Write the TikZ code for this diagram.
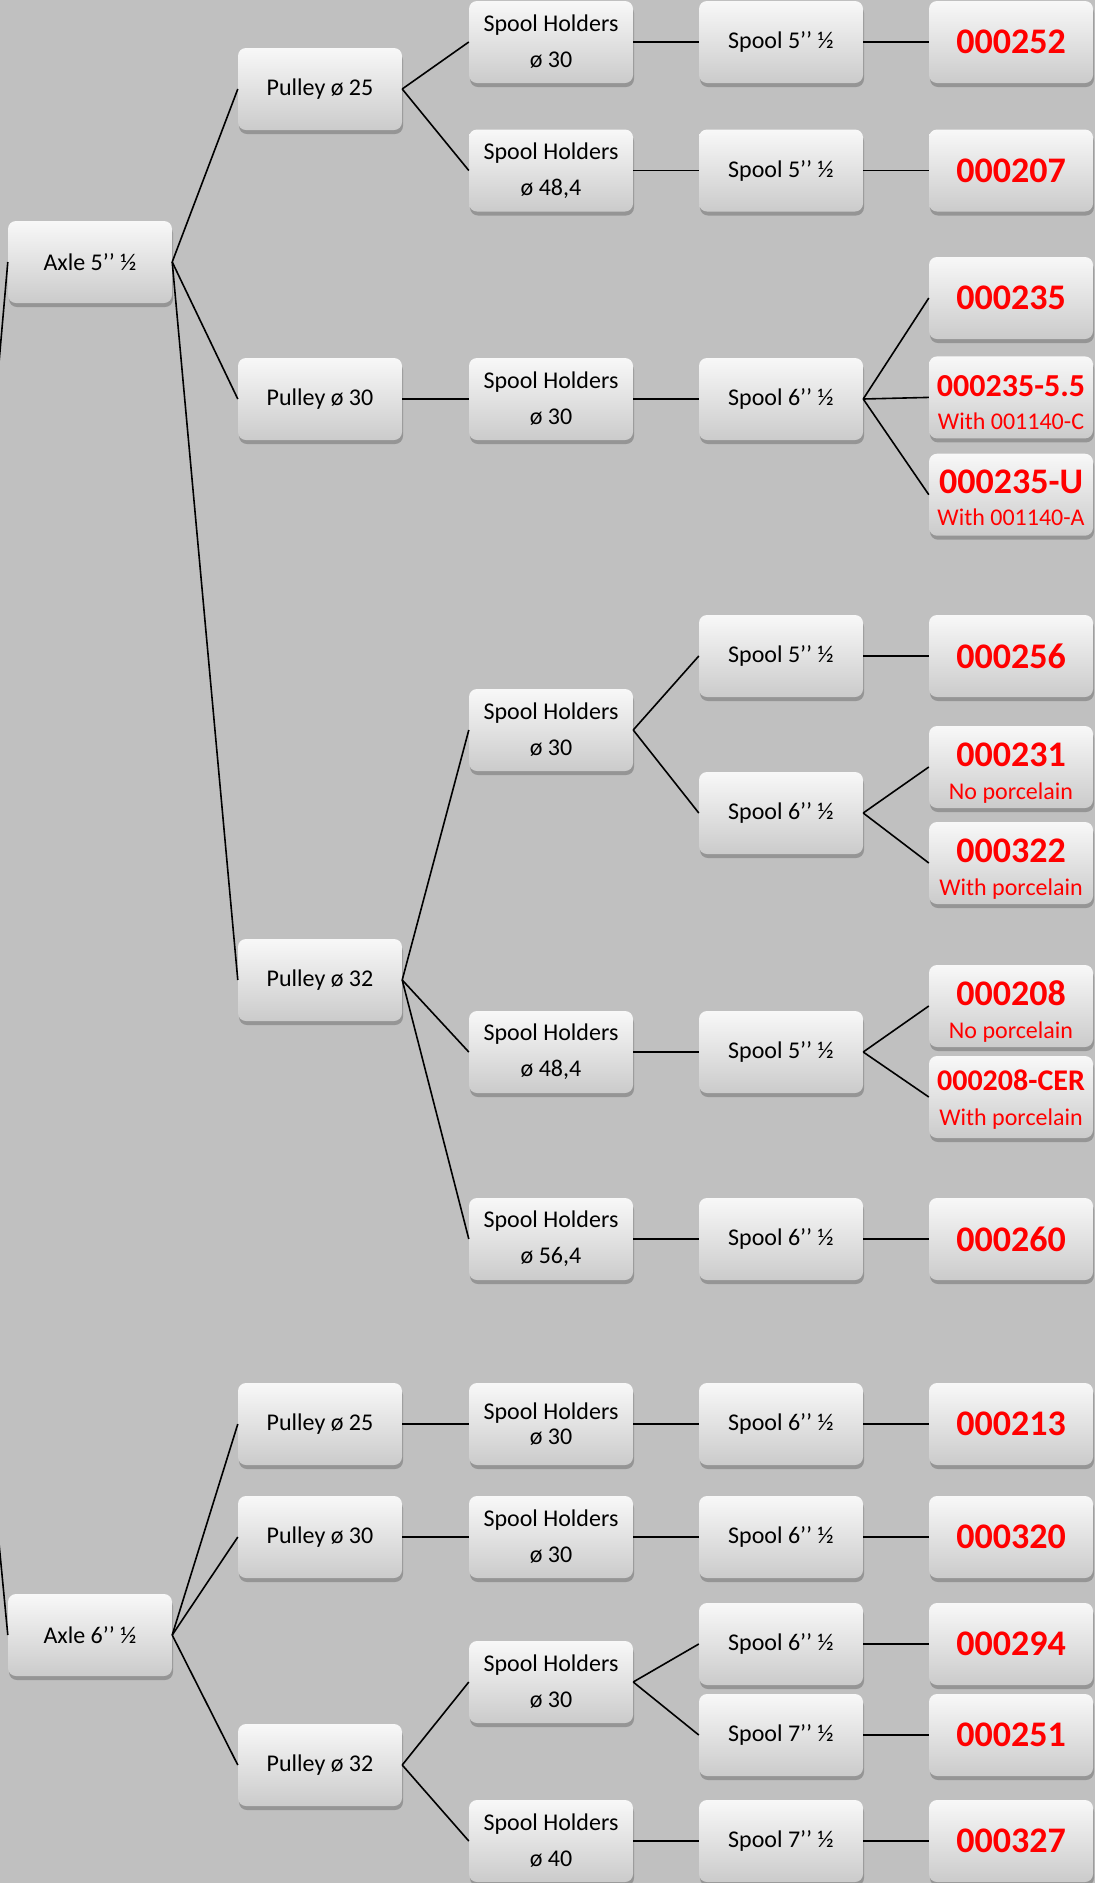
\documentclass[tikz,border=0pt]{standalone}
\usepackage{fontspec}
\setmainfont{Carlito}
\usepackage{xcolor}
\usepackage{tikz}
\usetikzlibrary{shadows}

\definecolor{bggrey}{HTML}{C0C0C0}
\definecolor{boxtop}{HTML}{F8F8F8}
\definecolor{boxbot}{HTML}{CBCBCB}
\definecolor{partred}{HTML}{FF0000}

\tikzset{
  box/.style={rounded corners=8pt, minimum width=164pt, minimum height=82pt,
    inner sep=0pt, top color=boxtop, bottom color=boxbot, align=center,
    drop shadow={shadow xshift=1pt, shadow yshift=-4pt, opacity=0.3, fill=black!80},
    font=\fontsize{24}{29}\selectfont},
  part/.style={box, text=partred, font=\fontsize{36}{40}\selectfont\bfseries},
  link/.style={line width=1.6pt}
}
\newcommand{\subl}[1]{{\mdseries\fontsize{24}{29}\selectfont #1}}
\newcommand{\lift}[1]{\rule{0pt}{#1}}

\begin{document}
\begin{tikzpicture}[x=1pt,y=-1pt]
\fill[bggrey] (0,0) rectangle (1095,1883);
\useasboundingbox (0,0) rectangle (1095,1883);

% Axles
\coordinate (root) at (-55,980);
\node[box] (ax5) at (90,262) {Axle 5’’ ½};
\node[box] (ax6) at (90,1635) {Axle 6’’ ½};

% Pulleys
\foreach \n/\y/\d in {pa/89/25, pb/399/30, pc/980/32, pd/1424/25, pe/1537/30, pf/1765/32}
    \node[box] (\n) at (320,\y) {Pulley ø \d};

% Spool holders
\foreach \n/\y/\d in {ha/42/30, hb/170.5/{48,4}, hc/399/30, hd/730/30, he/1052/{48,4},
                      hf/1239/{56,4}, hh/1537/30, hi/1682/30, hj/1841/40}
    \node[box] (\n) at (551,\y) {Spool Holders\\[7pt]ø \d};
\node[box] (hg) at (551,1424) {Spool Holders\\[-4pt]ø 30};

% Spools
\foreach \n/\y/\s in {sa/42/5, sb/170.5/5, sc/399/6, sd/656/5, se/813/6, sf/1052/5,
                      sg/1239/6, sh/1424/6, si/1537/6, sj/1644/6, sk/1735/7, sl/1841/7}
    \node[box] (\n) at (781,\y) {Spool \s’’ ½};

% Part numbers
\foreach \n/\y/\p in {r252/42/000252, r207/170.5/000207, r235/298/000235, r256/656/000256,
                      r260/1239/000260, r213/1424/000213, r320/1537/000320,
                      r294/1644/000294, r251/1735/000251, r327/1841/000327}
    \node[part] (\n) at (1011,\y) {\p};
\node[part, font=\fontsize{32}{36}\selectfont\bfseries] (r2355) at (1011,397.4)
    {\lift{32pt}000235-5.5\\[-3pt]\subl{With 001140-C}};
\node[part] (r235u) at (1011,494.7) {\lift{30pt}000235-U\\[-8pt]\subl{With 001140-A}};
\node[part] (r231) at (1011,767) {\lift{35pt}000231\\[-7pt]\subl{No porcelain}};
\node[part] (r322) at (1011,863) {\lift{35pt}000322\\[-7pt]\subl{With porcelain}};
\node[part] (r208) at (1011,1006) {\lift{35pt}000208\\[-7pt]\subl{No porcelain}};
\node[part, font=\fontsize{30}{30}\selectfont\bfseries] (r208c) at (1011,1097)
    {\lift{25pt}000208-CER\\[5pt]\subl{With porcelain}};

% Links
\draw[link] (root) -- (ax5.west);
\draw[link] (root) -- (ax6.west);
\foreach \a/\b in {ax5/pa, ax5/pb, ax5/pc, pa/ha, pa/hb, ha/sa, hb/sb, sa/r252, sb/r207,
                   pb/hc, hc/sc, sc/r235, sc/r2355, sc/r235u,
                   pc/hd, pc/he, pc/hf, hd/sd, hd/se, sd/r256, se/r231, se/r322,
                   he/sf, sf/r208, sf/r208c, hf/sg, sg/r260,
                   ax6/pd, ax6/pe, ax6/pf, pd/hg, hg/sh, sh/r213, pe/hh, hh/si, si/r320,
                   pf/hi, pf/hj, hi/sj, hi/sk, sj/r294, sk/r251, hj/sl, sl/r327}
    \draw[link] (\a.east) -- (\b.west);
\end{tikzpicture}
\end{document}
